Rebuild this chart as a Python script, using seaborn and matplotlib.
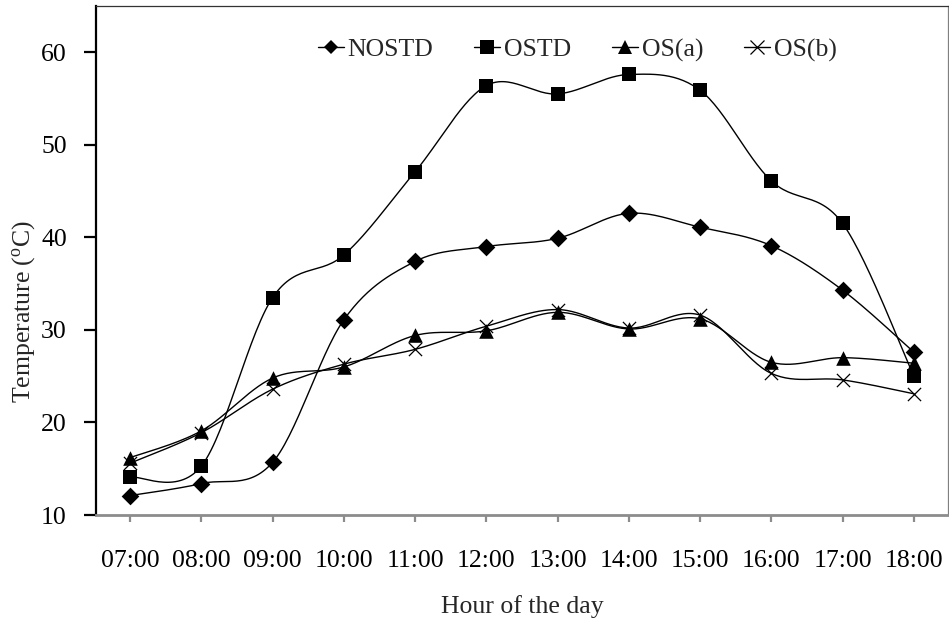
import numpy as np
import matplotlib
matplotlib.use("Agg")
import matplotlib.pyplot as plt
from matplotlib.lines import Line2D
import seaborn as sns

hours = ["07:00", "08:00", "09:00", "10:00", "11:00", "12:00",
         "13:00", "14:00", "15:00", "16:00", "17:00", "18:00"]
nostd = [12.1, 13.4, 15.7, 31.1, 37.4, 39.0, 39.9, 42.6, 41.1, 39.1, 34.3, 27.6]
ostd = [14.1, 15.3, 33.5, 38.1, 47.1, 56.4, 55.5, 57.6, 55.9, 46.1, 41.5, 25.0]
os_a = [16.2, 19.1, 24.8, 26.0, 29.4, 29.9, 31.9, 30.1, 31.2, 26.5, 27.0, 26.4]
os_b = [15.6, 18.9, 23.6, 26.3, 27.9, 30.4, 32.2, 30.2, 31.6, 25.3, 24.6, 23.1]

series_names = ["NOSTD", "OSTD", "OS(a)", "OS(b)"]
series_values = [nostd, ostd, os_a, os_b]
markers = ["D", "s", "^", "x"]
marker_sizes = [9.0, 10, 10.5, 9.5]


def smooth_curve(xs, ys, steps=30):
    """Cubic Bezier smoothing through each point (Catmull-Rom style tangents)."""
    pts = np.column_stack([xs, ys]).astype(float)
    n = len(pts)
    out = []
    for i in range(n - 1):
        p0 = pts[max(i - 1, 0)]
        p1 = pts[i]
        p2 = pts[i + 1]
        p3 = pts[min(i + 2, n - 1)]
        c1 = p1 + (p2 - p0) / 6.0
        c2 = p2 - (p3 - p1) / 6.0
        t = np.linspace(0, 1, steps, endpoint=(i == n - 2))[:, None]
        seg = ((1 - t) ** 3) * p1 + 3 * ((1 - t) ** 2) * t * c1 \
            + 3 * (1 - t) * t ** 2 * c2 + t ** 3 * p2
        out.append(seg)
    out = np.vstack(out)
    return out[:, 0], out[:, 1]


sns.set_theme(style="white")
plt.rcParams["font.family"] = ["Liberation Serif", "DejaVu Serif"]
plt.rcParams["mathtext.fontset"] = "custom"
plt.rcParams["mathtext.rm"] = "Liberation Serif"
plt.rcParams["mathtext.it"] = "Liberation Serif:italic"

FS = 18.5
fig = plt.figure(figsize=(9.49, 6.25), dpi=100)
ax = fig.add_axes([96 / 949, 1 - 515 / 625, (948 - 96) / 949, (515 - 6) / 625])

xpos = np.arange(len(hours))
for name, vals, m, ms in zip(series_names, series_values, markers, marker_sizes):
    sx, sy = smooth_curve(xpos, vals)
    sns.lineplot(x=sx, y=sy, ax=ax, color="black", linewidth=1.0,
                 sort=False, estimator=None, legend=False)
    if m == "x":
        sns.scatterplot(x=xpos, y=vals, ax=ax, marker="x", s=ms ** 2,
                        color="black", linewidth=0.9, legend=False, zorder=3)
    else:
        sns.scatterplot(x=xpos, y=vals, ax=ax, marker=m, s=ms ** 2,
                        color="black", edgecolor="black", linewidth=0,
                        legend=False, zorder=3)

ax.set_xlim(-0.48, 11.48)
ax.set_ylim(10, 65)
ax.set_xticks(xpos)
ax.set_xticklabels(hours)
ax.set_yticks([10, 20, 30, 40, 50, 60])

ax.tick_params(axis="y", direction="out", length=8.5, width=1.6, color="black",
               labelsize=FS, pad=12.5, left=True)
ax.tick_params(axis="x", direction="out", length=5, width=1.6, color="#8c8c8c",
               labelsize=FS, pad=20, bottom=True)
for lab in ax.get_xticklabels() + ax.get_yticklabels():
    lab.set_color("black")

ax.spines["left"].set_color("black")
ax.spines["left"].set_linewidth(1.6)
ax.spines["bottom"].set_color("#8c8c8c")
ax.spines["bottom"].set_linewidth(2.0)
ax.spines["top"].set_color("#333333")
ax.spines["top"].set_linewidth(0.9)
ax.spines["right"].set_color("#808080")
ax.spines["right"].set_linewidth(0.9)

ax.set_xlabel("Hour of the day", fontsize=FS, labelpad=17)
ax.set_ylabel(r"Temperature ($^{\mathrm{o}}$C)", fontsize=FS)
ax.yaxis.set_label_coords(-0.069, 0.400)

handles = [Line2D([], [], color="black", linewidth=1.0, marker=m,
                  markersize=ms, markeredgewidth=(0.9 if m == "x" else 0))
           for m, ms in zip(markers, [7.0, 10, 10.5, 9.5])]
fig.legend(handles, series_names, loc="center left",
           bbox_to_anchor=(318 / 949, 1 - 50 / 625), ncol=4, frameon=False,
           fontsize=FS, handlelength=1.0, handletextpad=0.15,
           columnspacing=1.6, borderpad=0, borderaxespad=0)

fig.savefig("out.png", dpi=100, facecolor="white")
